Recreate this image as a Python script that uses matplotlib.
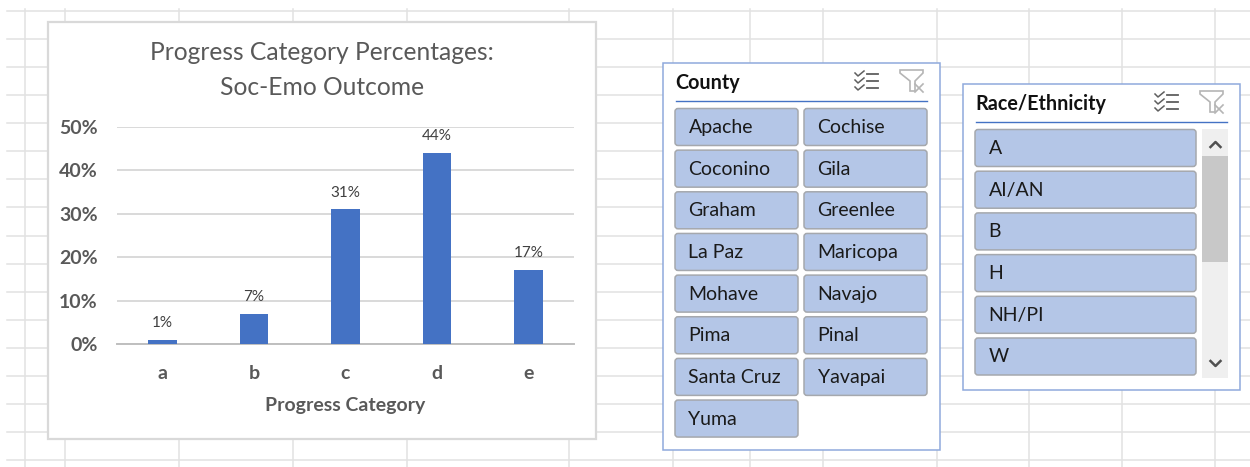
"""Progress category chart with the two slicer panels beside it."""

import matplotlib.pyplot as plt
from matplotlib.patches import FancyBboxPatch, Rectangle, Polygon

WIDTH, HEIGHT = 1250, 467

categories = ["a", "b", "c", "d", "e"]
percentages = [1, 7, 31, 44, 17]
y_ticks = [0, 10, 20, 30, 40, 50]
counties = [
    "Apache", "Cochise", "Coconino", "Gila", "Graham", "Greenlee", "La Paz",
    "Maricopa", "Mohave", "Navajo", "Pima", "Pinal", "Santa Cruz", "Yavapai", "Yuma",
]
races = ["A", "AI/AN", "B", "H", "NH/PI", "W"]

sheet_x = [25, 65, 179, 293, 407, 569, 673, 750, 823, 937, 1029, 1122, 1215]

GRID = "#e2e2e2"
BORDER = "#8faadc"
BUTTON = "#b4c6e7"
BAR = "#4472c4"
TEXT = "#595959"
INK = "#1a1a1a"

plt.rcParams["font.family"] = ["Lato", "DejaVu Sans"]

fig = plt.figure(figsize=(WIDTH / 100, HEIGHT / 100), dpi=100)
sheet = fig.add_axes([0, 0, 1, 1])
sheet.set_xlim(0, WIDTH)
sheet.set_ylim(HEIGHT, 0)
sheet.axis("off")

# worksheet cells behind everything
for x in sheet_x:
    sheet.plot([x, x], [9, HEIGHT], color=GRID, lw=1.1, zorder=1)
for k in range(17):
    y = 11 + k * 28.07
    sheet.plot([7, WIDTH], [y, y], color=GRID, lw=1.1, zorder=1)

sheet.add_patch(Rectangle((47.5, 21.5), 548, 417, fc="white", ec="#d9d9d9", lw=1.6, zorder=2))


def draw_icons(right, top):
    """Multi-select and clear-filter icons of a slicer header."""
    for k in range(3):
        y = top + k * 7
        sheet.plot([right - 72, right - 69, right - 63], [y - 1, y + 2, y - 3], color="#5f5f5f", lw=1.1, zorder=4)
        sheet.plot([right - 60, right - 49], [y, y], color="#5f5f5f", lw=1.3, zorder=4)
    sheet.add_patch(Polygon(
        [(right - 27, top - 4), (right - 4, top - 4), (right - 4, top - 1), (right - 12, top + 7),
         (right - 12, top + 17), (right - 17, top + 17), (right - 17, top + 7), (right - 27, top - 1)],
        closed=True, fc="white", ec="#b5b5b5", lw=1.2, zorder=4))
    sheet.plot([right - 12, right - 4], [top + 10, top + 18], color="#b5b5b5", lw=1.2, zorder=5)
    sheet.plot([right - 12, right - 4], [top + 18, top + 10], color="#b5b5b5", lw=1.2, zorder=5)


def draw_button(x, y, w, label):
    sheet.add_patch(FancyBboxPatch(
        (x + 2, y + 2), w - 4, 33, boxstyle="round,pad=2,rounding_size=3",
        fc=BUTTON, ec="#a5a8ad", lw=1.1, zorder=4))
    sheet.text(x + 13.5, y + 19, label, fontsize=14, color=INK, va="center", ha="left", zorder=5)


def draw_panel(x, y, w, h, title, rule_y, rule_right):
    sheet.add_patch(Rectangle((x, y), w, h, fc="white", ec=BORDER, lw=1.1, zorder=3))
    sheet.text(x + 13, y + 20.5, title, fontsize=14.2, fontweight="bold", color="#111111",
               va="center", ha="left", zorder=5)
    sheet.plot([x + 13, rule_right], [rule_y, rule_y], color="#4472c4", lw=1, zorder=4)


# County slicer
draw_panel(662.5, 62.5, 277.5, 387.5, "County", 100.5, 927)
draw_icons(927, 74)
for i, name in enumerate(counties):
    col, row = i % 2, i // 2
    draw_button(675 + col * 129, 108.5 + row * 41.65, 123, name)

# Race/Ethnicity slicer
draw_panel(962.5, 83.5, 277.5, 306.5, "Race/Ethnicity", 122, 1227)
draw_icons(1227, 95)
for i, name in enumerate(races):
    draw_button(975, 129.5 + i * 41.7, 221, name)
sheet.add_patch(Rectangle((1202, 129), 26, 249, fc="#efefef", ec="none", zorder=4))
sheet.add_patch(Rectangle((1202, 156), 26, 106, fc="#c8c8c8", ec="none", zorder=5))
sheet.plot([1210.5, 1215.5, 1220.5], [147, 142, 147], color="#505050", lw=1.8, zorder=6)
sheet.plot([1210.5, 1215.5, 1220.5], [361, 366, 361], color="#505050", lw=1.8, zorder=6)

# the chart itself, placed over its white box
left, right, top, bottom = 117, 574, 127, 344
ax = fig.add_axes([left / WIDTH, 1 - bottom / HEIGHT, (right - left) / WIDTH, (bottom - top) / HEIGHT])
ax.patch.set_alpha(0)
positions = range(len(categories))
bars = ax.bar(positions, percentages, width=0.315, color=BAR, zorder=3)
ax.bar_label(bars, labels=[f"{v}%" for v in percentages], padding=7, fontsize=11, color="#404040")
ax.set_xlim(-0.5, len(categories) - 0.5)
ax.set_ylim(0, 50)
ax.set_yticks(y_ticks)
ax.set_yticklabels([f"{v}%" for v in y_ticks], fontsize=14, fontweight="bold", color=TEXT)
ax.set_xticks(list(positions))
ax.set_xticklabels(categories, fontsize=14, fontweight="bold", color=TEXT)
ax.tick_params(axis="both", length=0)
ax.tick_params(axis="x", pad=15)
ax.tick_params(axis="y", pad=14)
ax.grid(axis="y", color="#d9d9d9", lw=1.4, zorder=0)
ax.set_axisbelow(True)
for side in ("top", "right", "left"):
    ax.spines[side].set_visible(False)
ax.spines["bottom"].set_color("#bfbfbf")
ax.spines["bottom"].set_linewidth(1.4)
ax.set_xlabel("Progress Category", fontsize=14, fontweight="bold", color=TEXT, labelpad=11)
fig.text(322 / WIDTH, 1 - 70 / HEIGHT, "Progress Category Percentages:\nSoc-Emo Outcome",
         fontsize=17.7, color=TEXT, ha="center", va="center", linespacing=1.6)

fig.savefig("out.png", dpi=100)
plt.close(fig)
